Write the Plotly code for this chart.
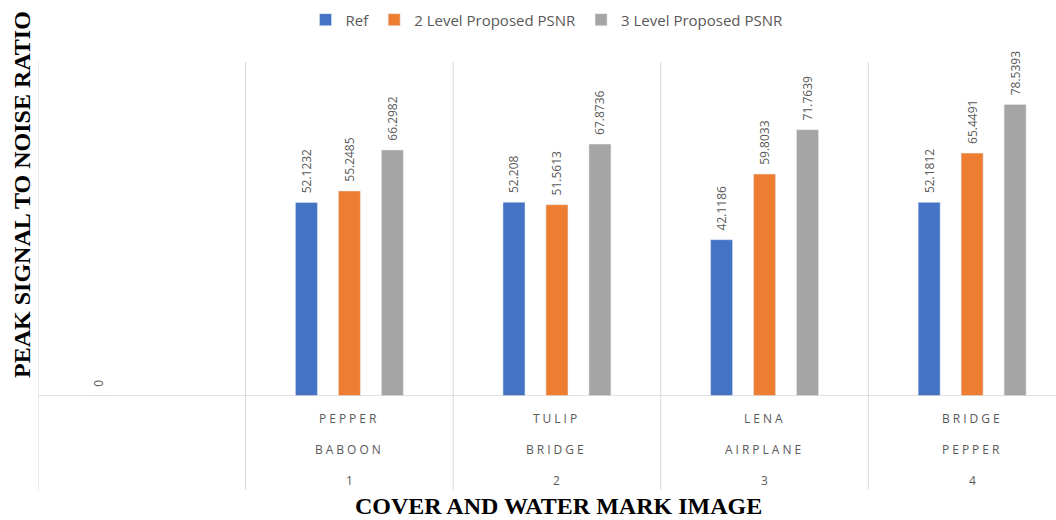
import plotly.graph_objects as go

x_pos = [0, 1, 2, 3, 4]
row1 = ["", "PEPPER", "TULIP", "LENA", "BRIDGE"]
row2 = ["", "BABOON", "BRIDGE", "AIRPLANE", "PEPPER"]
row3 = ["", "1", "2", "3", "4"]

ref = [0, 52.1232, 52.208, 42.1186, 52.1812]
lvl2 = [None, 55.2485, 51.5613, 59.8033, 65.4491]
lvl3 = [None, 66.2982, 67.8736, 71.7639, 78.5393]

names = ["Ref", "2 Level Proposed PSNR", "3 Level Proposed PSNR"]
colors = ["#4472C4", "#ED7D31", "#A5A5A5"]

LBL = "#595959"
fig = go.Figure()
for name, vals, col in zip(names, [ref, lvl2, lvl3], colors):
    fig.add_trace(go.Bar(
        x=x_pos, y=vals, name=name, marker_color=col,
        text=["" if v is None else "\u00a0\u00a0" + f"{v:g}" for v in vals],
        textposition="outside", textangle=-90, constraintext="none",
        textfont=dict(family="Open Sans, Noto Sans, sans-serif", size=12, color=LBL),
        cliponaxis=False,
    ))

annotations = []
for xi, a, b, c in zip(x_pos, row1, row2, row3):
    for txt, yp in [(a, -0.0659), (b, -0.1587), (c, -0.2515)]:
        if txt:
            annotations.append(dict(
                x=xi, y=yp, xref="x", yref="paper", showarrow=False,
                text=f'<span style="letter-spacing:3px">{txt}</span>' if not txt.isdigit() else txt,
                font=dict(family="Open Sans, Noto Sans, sans-serif", size=12, color=LBL),
                xanchor="center", yanchor="middle"))

annotations.append(dict(
    x=0.511, y=-0.371, xref="paper", yref="paper", showarrow=False,
    text="<b>COVER AND WATER MARK IMAGE</b>",
    font=dict(family="Liberation Serif, Times New Roman, serif", size=24, color="black"),
    xanchor="center", yanchor="bottom", borderpad=0))
annotations.append(dict(
    x=-0.0157, y=0.602, xref="paper", yref="paper", showarrow=False,
    text="<b>PEAK SIGNAL TO NOISE RATIO</b>", textangle=-90,
    font=dict(family="Liberation Serif, Times New Roman, serif", size=24, color="black"),
    xanchor="center", yanchor="middle"))

shapes = []
for xs in [-0.5, 0.5, 1.5, 2.5, 3.5]:
    shapes.append(dict(type="line", xref="x", yref="paper", x0=xs, x1=xs,
                       y0=-0.281, y1=1.0, line=dict(color="#D9D9D9", width=1)))
shapes.append(dict(type="line", xref="paper", yref="y", x0=0, x1=1, y0=0, y1=0,
                   line=dict(color="#D9D9D9", width=1.5)))

fig.update_layout(
    width=1056, height=520,
    margin=dict(l=38, r=0, t=62, b=124),
    plot_bgcolor="white", paper_bgcolor="white",
    barmode="group", bargap=0.379, bargroupgap=0.488,
    xaxis=dict(range=[-0.5, 4.404], showticklabels=False, showgrid=False,
               zeroline=False, showline=False, ticks=""),
    yaxis=dict(range=[0, 90], showticklabels=False, showgrid=False,
               zeroline=False, showline=False, ticks=""),
    legend=dict(orientation="h", x=0.5, y=1.126, xanchor="center", yanchor="middle",
                font=dict(family="Open Sans, Noto Sans, sans-serif", size=15, color=LBL),
                itemwidth=30, traceorder="normal"),
    annotations=annotations, shapes=shapes,
    showlegend=True,
)

fig.write_html("out.html")
